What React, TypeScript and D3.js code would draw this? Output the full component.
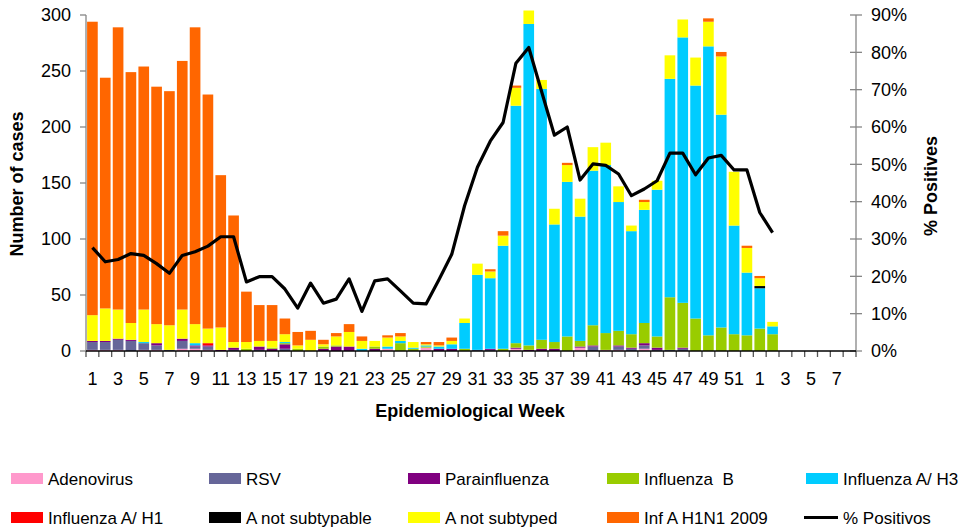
import * as d3 from "d3";
import React from "react";

// weeks 1..52 of the season year, then 1..8 of the next
const weeks = [
  ...d3.range(1, 53).map((w) => `a${w}`),
  ...d3.range(1, 9).map((w) => `b${w}`),
];

const adenovirus = [1, 1, 1, 0, 1, 1, 0, 2, 2, 1, 0, 0, 0, 0, 0, 0, 0, 0, 0, 0, 0, 0, 0, 2, 0, 0, 3, 0, 0, 0, 0, 0, 0, 2, 0, 0, 0, 0, 3, 0, 1, 1, 0, 2, 0, 0, 0, 0, 0, 0, 0, 0, 0, 0];
const rsv = [7, 7, 9, 9, 6, 4, 1, 7, 2, 3, 0, 1, 0, 1, 0, 2, 0, 0, 0, 0, 0, 0, 0, 0, 0, 0, 0, 0, 0, 0, 1, 1, 0, 0, 0, 0, 0, 0, 0, 4, 0, 3, 2, 3, 1, 1, 2, 0, 0, 0, 0, 0, 0, 0];
const parainfluenza = [1, 1, 1, 1, 0, 2, 0, 2, 1, 1, 1, 2, 0, 3, 2, 4, 0, 0, 2, 4, 4, 0, 2, 0, 0, 0, 0, 2, 2, 0, 0, 1, 0, 1, 1, 2, 2, 0, 1, 1, 0, 1, 1, 2, 2, 0, 1, 0, 0, 0, 0, 0, 0, 0];
const influenzaB = [0, 0, 0, 0, 0, 0, 0, 0, 0, 0, 0, 0, 2, 0, 1, 1, 2, 0, 2, 1, 0, 0, 2, 0, 7, 2, 1, 0, 0, 2, 0, 0, 2, 4, 4, 8, 6, 13, 5, 18, 15, 13, 12, 18, 10, 47, 40, 29, 14, 21, 15, 14, 20, 15];
const influenzaAH3 = [0, 0, 0, 0, 1, 0, 0, 0, 2, 0, 0, 0, 0, 0, 0, 1, 0, 0, 0, 0, 0, 2, 0, 2, 2, 1, 1, 2, 4, 23, 67, 63, 92, 212, 287, 224, 105, 138, 111, 138, 150, 115, 92, 101, 131, 195, 237, 208, 258, 190, 97, 56, 36, 7];
const influenzaAH1 = [0, 0, 0, 0, 0, 0, 0, 0, 0, 2, 0, 0, 0, 0, 0, 0, 0, 0, 0, 0, 0, 0, 0, 0, 0, 0, 0, 0, 0, 0, 0, 0, 0, 0, 0, 0, 0, 0, 0, 0, 0, 0, 0, 0, 0, 0, 0, 0, 0, 0, 0, 0, 0, 0];
const notSubtypable = [0, 0, 0, 0, 0, 0, 0, 0, 0, 0, 0, 0, 0, 0, 0, 0, 0, 0, 0, 0, 0, 0, 0, 0, 0, 0, 0, 0, 0, 0, 0, 0, 0, 0, 0, 0, 0, 0, 0, 0, 0, 0, 0, 0, 0, 0, 0, 0, 0, 0, 0, 0, 2, 0];
const notSubtyped = [23, 29, 26, 15, 29, 17, 22, 26, 17, 13, 20, 5, 6, 5, 6, 7, 3, 10, 2, 8, 13, 7, 5, 8, 4, 5, 1, 1, 3, 4, 10, 6, 9, 16, 12, 8, 14, 15, 16, 21, 20, 14, 5, 7, 8, 21, 16, 25, 22, 52, 48, 22, 7, 4];
const h1n1_2009 = [262, 206, 252, 224, 217, 212, 209, 222, 265, 209, 136, 113, 45, 32, 32, 14, 12, 8, 4, 3, 7, 4, 0, 2, 3, 0, 2, 3, 3, 0, 0, 2, 4, 2, 0, 0, 0, 2, 0, 0, 0, 0, 0, 2, 0, 0, 0, 0, 3, 4, 0, 2, 2, 0];
const pctPositive = [27.7, 23.9, 24.5, 26.1, 25.6, 23.4, 20.8, 25.6, 26.6, 28.1, 30.6, 30.6, 18.5, 19.9, 19.9, 16.6, 11.5, 18.2, 12.8, 13.9, 19.3, 10.6, 18.8, 19.3, 16.1, 12.8, 12.6, 19.1, 25.9, 38.9, 49.2, 56.2, 61.2, 77.1, 81.3, 69.5, 57.8, 60.0, 45.8, 50.1, 49.7, 47.4, 41.6, 43.4, 45.6, 53.0, 53.0, 47.2, 51.7, 52.4, 48.5, 48.5, 37.1, 31.7];

const leftTicks = [0, 50, 100, 150, 200, 250, 300];
const rightTicks = [0, 10, 20, 30, 40, 50, 60, 70, 80, 90];

const series = [
  { key: "adeno", label: "Adenovirus", color: "#FF99CC", values: adenovirus },
  { key: "rsv", label: "RSV", color: "#666699", values: rsv },
  { key: "para", label: "Parainfluenza", color: "#800080", values: parainfluenza },
  { key: "b", label: "Influenza  B", color: "#99CC00", values: influenzaB },
  { key: "h3", label: "Influenza A/ H3", color: "#00CCFF", values: influenzaAH3 },
  { key: "h1", label: "Influenza A/ H1", color: "#FF0000", values: influenzaAH1 },
  { key: "nst", label: "A not subtypable", color: "#000000", values: notSubtypable },
  { key: "ns", label: "A not subtyped", color: "#FFFF00", values: notSubtyped },
  { key: "pdm", label: "Inf A H1N1 2009", color: "#FF6600", values: h1n1_2009 },
];

const font = "'Liberation Sans', Arial, sans-serif";

export default function App() {
  const width = 963;
  const height = 528;
  const left = 86;
  const right = 856;
  const top = 15;
  const bottom = 351;

  const x = d3.scaleBand().domain(weeks).range([left, right]).paddingInner(0.17).paddingOuter(0.085);
  const y = d3.scaleLinear().domain([0, 300]).range([bottom, top]);
  const yPct = d3.scaleLinear().domain([0, 90]).range([bottom, top]);

  const rows = weeks.map((w, i) => {
    const row: any = { week: w };
    series.forEach((s) => (row[s.key] = s.values[i] ?? 0));
    return row;
  });
  const stacked = d3.stack().keys(series.map((s) => s.key))(rows);

  const step = x.step();
  const boundaries = d3.range(weeks.length + 1).map((i) => left + i * step);

  const line = d3
    .line<number>()
    .x((_, i) => x(weeks[i])! + x.bandwidth() / 2)
    .y((d) => yPct(d));

  const legendCols = [11, 209, 408, 607, 806];
  const legendRows = [478.5, 517.5];

  return (
    <svg width={width} height={height} style={{ position: "absolute", left: 0, top: 0 }} fontFamily={font}>
      <rect width={width} height={height} fill="#fff" />
      {stacked.map((layer, si) => (
        <g key={layer.key} fill={series[si].color}>
          {layer.map((d, i) =>
            d[1] - d[0] > 0 ? (
              <rect
                key={i}
                x={x(weeks[i])}
                y={y(d[1])}
                width={x.bandwidth()}
                height={y(d[0]) - y(d[1])}
              />
            ) : null
          )}
        </g>
      ))}

      {/* left axis */}
      <line x1={left} x2={left} y1={top} y2={bottom} stroke="#868686" strokeWidth={1.3} />
      {leftTicks.map((t) => (
        <g key={t}>
          <line x1={left - 6} x2={left} y1={y(t)} y2={y(t)} stroke="#868686" strokeWidth={1.3} />
          <text x={left - 15} y={y(t)} dy="0.36em" textAnchor="end" fontSize={18}>
            {t}
          </text>
        </g>
      ))}

      {/* right axis */}
      <line x1={right} x2={right} y1={top} y2={bottom} stroke="#868686" strokeWidth={1.3} />
      {rightTicks.map((t) => (
        <g key={t}>
          <line x1={right - 6} x2={right + 6} y1={yPct(t)} y2={yPct(t)} stroke="#868686" strokeWidth={1.3} />
          <text x={right + 15} y={yPct(t)} dy="0.36em" fontSize={18}>
            {t}%
          </text>
        </g>
      ))}

      {/* x axis */}
      {boundaries.map((bx, i) => (
        <line key={i} x1={bx} x2={bx} y1={bottom} y2={bottom + 6} stroke="#555" strokeWidth={1.3} />
      ))}
      <line x1={left} x2={right} y1={bottom} y2={bottom} stroke="#000" strokeWidth={1.3} />
      {weeks.map((w, i) =>
        i % 2 === 0 ? (
          <text key={w} x={x(w)! + x.bandwidth() / 2} y={385} textAnchor="middle" fontSize={18}>
            {w.slice(1)}
          </text>
        ) : null
      )}

      <path d={line(pctPositive) ?? ""} fill="none" stroke="#000" strokeWidth={3.2} strokeLinejoin="round" />

      <text x={470} y={417} textAnchor="middle" fontSize={18} fontWeight="bold">
        Epidemiological Week
      </text>
      <text transform="translate(23,184) rotate(-90)" textAnchor="middle" fontSize={18} fontWeight="bold">
        Number of cases
      </text>
      <text transform="translate(937,186) rotate(-90)" textAnchor="middle" fontSize={18} fontWeight="bold">
        % Positives
      </text>

      {/* legend */}
      {series.map((s, i) => {
        const lx = legendCols[i % 5];
        const ly = legendRows[Math.floor(i / 5)];
        return (
          <g key={s.key}>
            <rect x={lx} y={ly - 5.5} width={32} height={11} fill={s.color} />
            <text x={lx + 37} y={ly} dy="0.36em" fontSize={17} style={{ whiteSpace: "pre" }}>
              {s.label}
            </text>
          </g>
        );
      })}
      <line x1={legendCols[4] - 2} x2={legendCols[4] + 32} y1={legendRows[1]} y2={legendRows[1]} stroke="#000" strokeWidth={3} />
      <text x={legendCols[4] + 37} y={legendRows[1]} dy="0.36em" fontSize={17}>
        % Positivos
      </text>
    </svg>
  );
}
